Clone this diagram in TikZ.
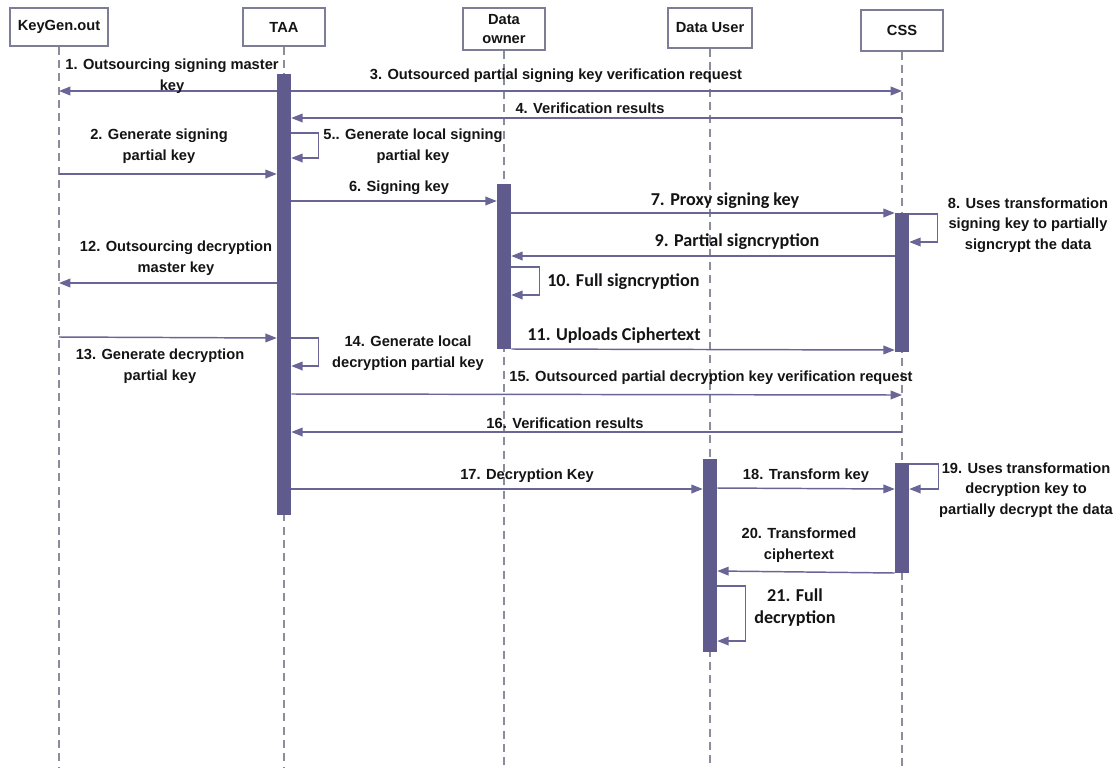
\documentclass[tikz,border=0pt]{standalone}
\usepackage{fontspec}
\setmainfont{Liberation Sans}
\newfontfamily\calib{Carlito}
\usetikzlibrary{arrows.meta}
\definecolor{barc}{RGB}{95,91,141}
\definecolor{linec}{RGB}{105,101,150}
\definecolor{lifec}{RGB}{140,140,156}
\definecolor{boxc}{RGB}{125,125,150}
\definecolor{txt}{RGB}{20,20,20}
\begin{document}
\begin{tikzpicture}[x=0.75pt,y=-0.75pt,
  head/.style={draw=boxc, line width=0.9pt, fill=white, inner sep=0pt, align=center,
    text=txt, font=\bfseries\fontsize{11}{14}\selectfont},
  bar/.style={fill=barc, draw=none, minimum width=10.5pt, inner sep=0pt},
  life/.style={draw=lifec, line width=0.8pt, dash pattern=on 6pt off 4pt},
  msg/.style={draw=linec, line width=1.1pt, -{Triangle[length=8.5pt,width=6.5pt]}},
  lab/.style={inner sep=0pt, align=center, text=txt, font=\bfseries\fontsize{11}{15.5}\selectfont},
  labc/.style={inner sep=0pt, align=center, text=txt, font=\calib\bfseries\fontsize{13.6}{16.5}\selectfont}]
\fill[white] (0,0) rectangle (1120,775);
\useasboundingbox (0,0) rectangle (1120,775);

% heads
\node[head, minimum width=73.5pt, minimum height=28.5pt] (kg) at (59,27) {KeyGen.out};
\node[head, minimum width=61.5pt, minimum height=28.5pt] (taa) at (284,27) {TAA};
\node[head, minimum width=61.5pt, minimum height=31.5pt] (do) at (504,29) {Data\\owner};
\node[head, minimum width=63pt, minimum height=30pt] (du) at (710,28) {Data User};
\node[head, minimum width=61.5pt, minimum height=30.75pt] (css) at (902,30.5) {CSS};

% lifelines
\coordinate (kgend) at (59,768);
\coordinate (taaend) at (284,768);
\coordinate (doend) at (504,768);
\coordinate (duend) at (710,768);
\coordinate (cssend) at (902,768);
\draw[life] (kg.south) -- (kgend);
\draw[life] (taa.south) -- (taaend);
\draw[life] (do.south) -- (doend);
\draw[life] (du.south) -- (duend);
\draw[life] (css.south) -- (cssend);

% activation bars
\node[bar, minimum height=330.75pt] (taab) at (284,294.5) {};
\node[bar, minimum height=123.75pt] (dob) at (504,266.5) {};
\node[bar, minimum height=144.75pt] (dub) at (710,555.5) {};
\node[bar, minimum height=104.25pt] (cssa) at (902,282.5) {};
\node[bar, minimum height=82.5pt] (cssb) at (902,518) {};

% messages
\draw[msg] (taab.west |- 0,91) -- (kg.south |- 0,91);
\node[lab] (l1) at (172,76) {1. Outsourcing signing master\\key};
\draw[msg] (taab.east |- 0,91) -- (css.south |- 0,91);
\node[lab] (l3) at (556,76) {3. Outsourced partial signing key verification request};
\draw[msg] (css.south |- 0,118) -- (taab.east |- 0,118);
\node[lab] (l4) at (590,108) {4. Verification results};
\draw[msg] (taab.east |- 0,133) -- ++(27,0) |- (taab.east |- 0,158);
\node[lab] (l5) at (413,146) {5.. Generate local signing\\partial key};
\draw[msg] (kg.south |- 0,174) -- (taab.west |- 0,174);
\node[lab] (l2) at (159,146) {2. Generate signing\\partial key};
\draw[msg] (taab.east |- 0,201) -- (dob.west |- 0,201);
\node[lab] (l6) at (399,188) {6. Signing key};
\draw[msg] (dob.east |- 0,213) -- (cssa.west |- 0,213);
\node[labc] (l7) at (725,201) {7. Proxy signing key};
\draw[msg] (cssa.east |- 0,214) -- ++(28,0) |- (cssa.east |- 0,242);
\node[lab] (l8) at (1028,225) {8. Uses transformation\\signing key to partially\\signcrypt the data};
\draw[msg] (cssa.west |- 0,256) -- (dob.east |- 0,256);
\node[labc] (l9) at (737,242) {9. Partial signcryption};
\draw[msg] (dob.east |- 0,267) -- ++(28,0) |- (dob.east |- 0,295);
\node[labc, anchor=west] (l10) at (547,282) {10. Full signcryption};
\draw[msg] (taab.west |- 0,283) -- (kg.south |- 0,283);
\node[lab] (l12) at (176,258) {12. Outsourcing decryption\\master key};
\draw[msg] (dob.east |- 0,349) -- (cssa.west |- 0,350);
\node[labc] (l11) at (614,336) {11. Uploads Ciphertext};
\draw[msg] (kg.south |- 0,337) -- (taab.west |- 0,338);
\node[lab] (l13) at (160,366) {13. Generate decryption\\partial key};
\draw[msg] (taab.east |- 0,338) -- ++(27,0) |- (taab.east |- 0,366);
\node[lab] (l14) at (408,353) {14. Generate local\\decryption partial key};
\draw[msg] (taab.east |- 0,394) -- (css.south |- 0,395);
\node[lab] (l15) at (711,378) {15. Outsourced partial decryption key verification request};
\draw[msg] (css.south |- 0,432) -- (taab.east |- 0,432);
\node[lab] (l16) at (565,423) {16. Verification results};
\draw[msg] (taab.east |- 0,489) -- (dub.west |- 0,489);
\node[lab] (l17) at (527,476) {17. Decryption Key};
\draw[msg] (dub.east |- 0,488) -- (cssb.west |- 0,489);
\node[lab] (l18) at (806,476) {18. Transform key};
\draw[msg] (cssb.east |- 0,464) -- ++(29,0) |- (cssb.east |- 0,489);
\node[lab] (l19) at (1026,490) {19. Uses transformation\\decryption key to\\partially decrypt the data};
\draw[msg] (cssb.west |- 0,573) -- (dub.east |- 0,571);
\node[lab] (l20) at (799,545) {20. Transformed\\ciphertext};
\draw[msg] (dub.east |- 0,586) -- ++(28,0) |- (dub.east |- 0,641);
\node[labc] (l21) at (795,608) {21. Full\\decryption};
\end{tikzpicture}
\end{document}
